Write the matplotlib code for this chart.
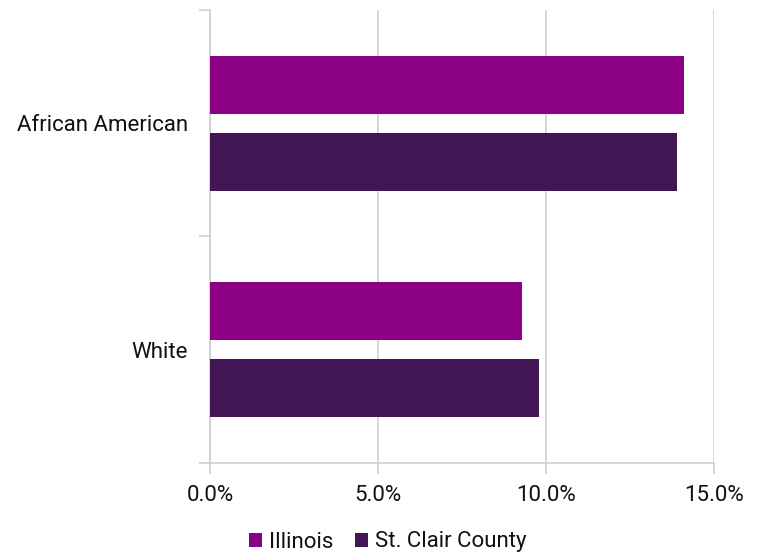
import numpy as np
import matplotlib.pyplot as plt
from matplotlib.ticker import FuncFormatter, FixedLocator

plt.rcParams['font.family'] = ['Roboto', 'DejaVu Sans']

# share of population, percent
groups = ['African American', 'White']
illinois = [14.1, 9.3]
st_clair = [13.9, 9.8]
series_names = ['Illinois', 'St. Clair County']
colors = ['#8C0084', '#421654']
grid_col = '#CFCFCF'

fig = plt.figure(figsize=(7.6, 5.56), dpi=100)
ax = fig.add_axes([0.2763, 0.1673, 0.9395 - 0.2763, 0.982 - 0.1673])

y = np.arange(len(groups))
h = 0.256
off = 0.17
ax.barh(y - off, illinois, height=h, color=colors[0], label=series_names[0], zorder=3)
ax.barh(y + off, st_clair, height=h, color=colors[1], label=series_names[1], zorder=3)

ax.set_xlim(0, 15)
ax.set_ylim(len(groups) - 0.5, -0.5)
ax.set_xticks([0, 5, 10, 15])
ax.xaxis.set_major_formatter(FuncFormatter(lambda v, p: '%.1f%%' % v))
ax.set_yticks(y)
ax.set_yticklabels(groups)
ax.yaxis.set_minor_locator(FixedLocator([-0.5, 0.5, 1.5]))

ax.grid(axis='x', color=grid_col, linewidth=1.2, zorder=0)
for s in ['top', 'right']:
    ax.spines[s].set_visible(False)
for s in ['left', 'bottom']:
    ax.spines[s].set_color(grid_col)
    ax.spines[s].set_linewidth(1.2)

ax.tick_params(axis='x', length=8, color=grid_col, width=1.2, labelsize=16,
               pad=8, labelcolor='#111111')
ax.tick_params(axis='y', which='major', length=0, labelsize=16, pad=16,
               labelcolor='#111111')
ax.tick_params(axis='y', which='minor', length=8, color=grid_col, width=1.2)

fig.legend(loc='center', bbox_to_anchor=(0.51, 1 - 542 / 556), ncol=2, frameon=False,
           fontsize=16, handlelength=0.6, handleheight=0.6, handletextpad=0.3,
           columnspacing=1.0, labelcolor='#111111')

fig.savefig('out.png', dpi=100)
